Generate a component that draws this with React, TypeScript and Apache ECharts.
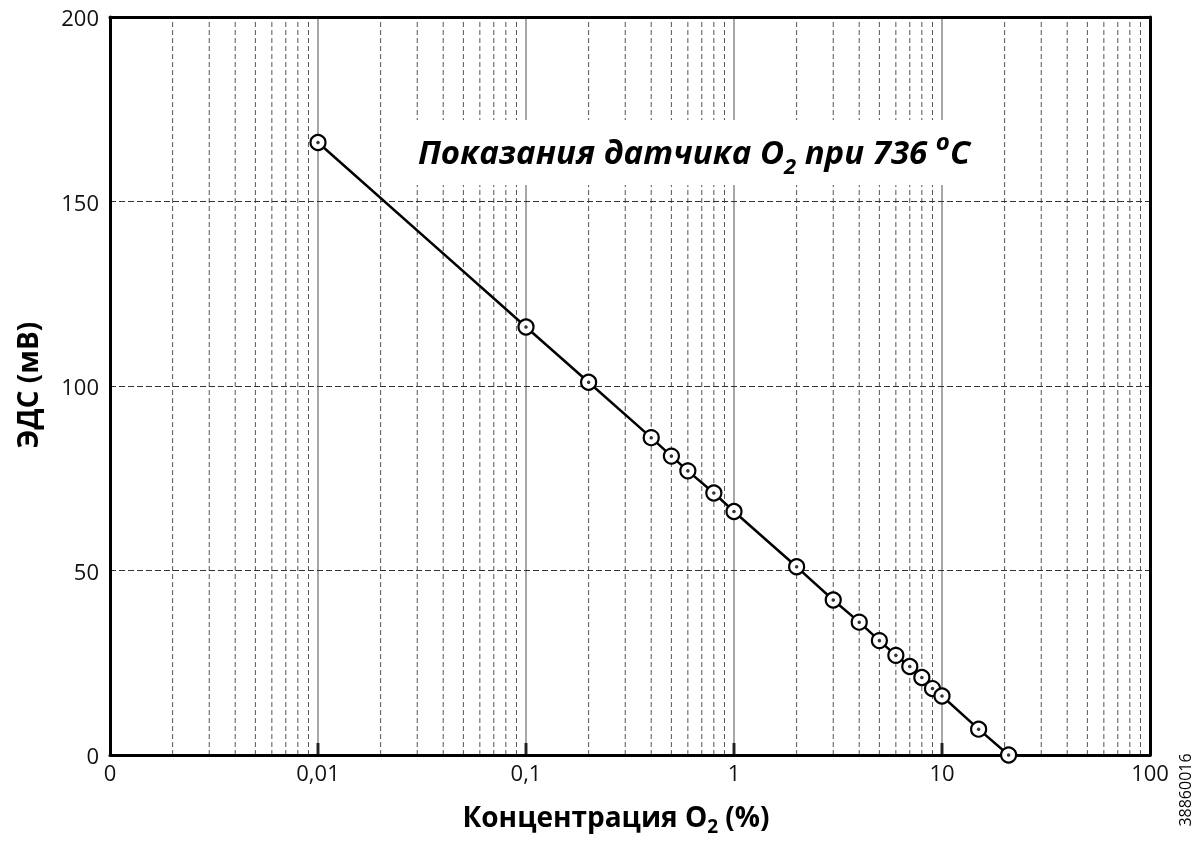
import React, { useEffect, useRef } from "react";
import * as echarts from "echarts";

const concentrations = [0.01, 0.1, 0.2, 0.4, 0.5, 0.6, 0.8, 1, 2, 3, 4, 5, 6, 7, 8, 9, 10, 15, 20.9];
const emfValues = [166, 116, 101, 86, 81, 77, 71, 66, 51, 42, 36, 31, 27, 24, 21, 18, 16, 7, 0];
const decadeLabels: Record<string, string> = {
  "-3": "0",
  "-2": "0,01",
  "-1": "0,1",
  "0": "1",
  "1": "10",
  "2": "100",
};
const decades = [0.001, 0.01, 0.1, 1, 10];
const majorTickValues = [0.01, 0.1, 1, 10];
const minorMultipliers = [2, 3, 4, 5, 6, 7, 8, 9];
const yMin = 0;
const yMax = 200;

const FONT = "'Open Sans', 'Noto Sans', sans-serif";

export default function App() {
  const ref = useRef<HTMLDivElement>(null);
  useEffect(() => {
    if (!ref.current) return;
    const chart = echarts.init(ref.current, null, { renderer: "svg" });
    const minorValues: number[] = [];
    decades.forEach((d) => minorMultipliers.forEach((m) => minorValues.push(+(d * m).toPrecision(3))));
    const minorSeries = minorValues.map((v) => ({
      type: "line",
      z: 1,
      silent: true,
      symbol: "none",
      data: [
        [v, yMin],
        [v, yMax],
      ],
      lineStyle: { color: "#555", width: 1, type: [5, 3] },
    }));
    const seriesData = concentrations.map((c, i) => [c, emfValues[i]]);
    const frameLine = { show: true, onZero: false, lineStyle: { color: "#000", width: 3 } };

    chart.setOption({
      animation: false,
      textStyle: { fontFamily: FONT },
      grid: { left: 110, right: 52, top: 17, bottom: 88, show: false },
      xAxis: [
        {
          type: "log",
          logBase: 10,
          min: 0.001,
          max: 100,
          z: 3,
          axisLine: frameLine,
          axisTick: { show: false },
          axisLabel: {
            color: "#111",
            fontSize: 22,
            fontFamily: FONT,
            margin: 6,
            formatter: (v: number) => decadeLabels[String(Math.round(Math.log10(v)))] ?? "",
          },
          splitLine: { show: true, showMinLine: false, showMaxLine: false, lineStyle: { color: "#888", width: 1.5, type: "solid" } },
          minorTick: { show: false },
          minorSplitLine: { show: false },
        },
        {
          type: "log",
          logBase: 10,
          min: 0.001,
          max: 100,
          position: "top",
          z: 6,
          axisLine: frameLine,
          axisTick: { show: false },
          axisLabel: { show: false },
          splitLine: { show: false },
        },
      ],
      yAxis: [
        {
          type: "value",
          min: yMin,
          max: yMax,
          interval: 50,
          z: 6,
          axisLine: frameLine,
          axisTick: { show: false },
          axisLabel: { color: "#111", fontSize: 22, fontFamily: FONT, margin: 11 },
          splitLine: { show: true, showMinLine: false, showMaxLine: false, lineStyle: { color: "#333", width: 1, type: [6, 3] } },
        },
        {
          type: "value",
          min: yMin,
          max: yMax,
          interval: 50,
          position: "right",
          z: 6,
          axisLine: frameLine,
          axisTick: { show: false },
          axisLabel: { show: false },
          splitLine: { show: false },
        },
      ],
      series: [
        ...minorSeries,
        {
          type: "scatter",
          z: 9,
          silent: true,
          clip: false,
          data: majorTickValues.map((v) => [v, yMin]),
          symbol: "rect",
          symbolSize: [3, 12],
          symbolOffset: [0, -6],
          itemStyle: { color: "#000" },
        },
        {
          type: "line",
          z: 7,
          data: seriesData,
          symbol: "circle",
          symbolSize: 15,
          lineStyle: { color: "#000", width: 2.5 },
          itemStyle: { color: "#fff", borderColor: "#000", borderWidth: 2.2 },
        },
        {
          type: "scatter",
          z: 8,
          data: seriesData,
          symbol: "circle",
          symbolSize: 3.5,
          itemStyle: { color: "#000" },
        },
      ],
      graphic: [
        { type: "rect", z: 5, shape: { x: 412, y: 120, width: 562, height: 65 }, style: { fill: "#fff" } },
        {
          type: "text",
          z: 6,
          x: 694,
          y: 151,
          style: {
            text: "{a|Показания датчика O}{sub|2}{a| при 736 }{sup|o}{a|C}",
            align: "center",
            verticalAlign: "middle",
            rich: {
              a: { fontSize: 33, fontWeight: "bold", fontStyle: "italic", fontFamily: FONT, fill: "#000" },
              sub: { fontSize: 22, fontWeight: "bold", fontStyle: "italic", fontFamily: FONT, fill: "#000", padding: [28, 0, 0, 0] },
              sup: { fontSize: 24, fontWeight: "bold", fontStyle: "italic", fontFamily: FONT, fill: "#000", padding: [0, 0, 22, 0] },
            },
          },
        },
        {
          type: "text",
          x: 27,
          y: 385,
          rotation: Math.PI / 2,
          style: {
            text: "ЭДС (мВ)",
            align: "center",
            verticalAlign: "middle",
            fontSize: 28,
            fontWeight: "bold",
            fontFamily: FONT,
            fill: "#000",
          },
        },
        {
          type: "text",
          x: 616,
          y: 816,
          style: {
            text: "{a|Концентрация O}{sub|2}{a| (%)}",
            align: "center",
            verticalAlign: "middle",
            rich: {
              a: { fontSize: 28, fontWeight: "bold", fontFamily: FONT, fill: "#000" },
              sub: { fontSize: 19, fontWeight: "bold", fontFamily: FONT, fill: "#000", padding: [20, 0, 0, 0] },
            },
          },
        },
        {
          type: "text",
          x: 1185,
          y: 790,
          rotation: Math.PI / 2,
          style: { text: "38860016", align: "center", verticalAlign: "middle", fontSize: 16, fontFamily: FONT, fill: "#000" },
        },
      ],
    });
    return () => chart.dispose();
  }, []);
  return <div ref={ref} style={{ position: "fixed", left: 0, top: 0, width: 1202, height: 843 }} />;
}
